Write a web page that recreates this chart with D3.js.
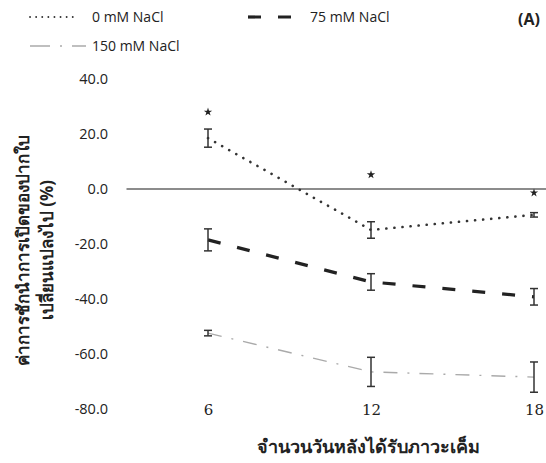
<!DOCTYPE html>
<html>
<head>
<meta charset="utf-8">
<script src="https://cdn.jsdelivr.net/npm/d3@7"></script>
<style>
  html, body { margin: 0; padding: 0; background: #fff; }
  svg { display: block; }
  text { font-family: "Open Sans", "Noto Sans", sans-serif; fill: #222; }
</style>
</head>
<body>
<svg id="chart" width="546" height="463"></svg>
<script>
// Days after salt stress
const days = [6, 12, 18];
// Change in stomatal conductance (%) for each NaCl level
const nacl0 = [18.5, -14.9, -9.4];
const nacl0Err = [3.3, 3.0, 0.8];
const nacl75 = [-18.5, -33.8, -39.2];
const nacl75Err = [4.0, 3.0, 3.0];
const nacl150 = [-52.4, -66.5, -68.4];
const nacl150Err = [1.0, 5.3, 5.5];
// Significance marks (value where the asterisk sits)
const sigPos = [28.0, 5.2, -1.4];
const yTicks = [40, 20, 0, -20, -40, -60, -80];
const seriesNames = ["0 mM NaCl", "75 mM NaCl", "150 mM NaCl"];

const svg = d3.select("#chart");
const W = 546;

const x = d3.scaleLinear().domain([6, 18]).range([208, 534]);
const y = d3.scaleLinear().domain([-80, 40]).range([409, 79]);

// Y axis labels only (no axis line)
const yAxis = d3.axisLeft(y).tickValues(yTicks).tickFormat(d3.format(".1f")).tickSize(0).tickPadding(0);
const gy = svg.append("g").attr("transform", "translate(108,0)").call(yAxis);
gy.select(".domain").remove();
gy.selectAll("text").style("font-size", "14.5px").attr("fill", "#222")
  .style("font-family", "'Open Sans', sans-serif")
  .text(d => d3.format(".1f")(d).replace("−", "-"));

// X axis labels
const xAxis = d3.axisBottom(x).tickValues(days).tickSize(0).tickPadding(0);
const gx = svg.append("g").attr("transform", "translate(0,404)").call(xAxis);
gx.select(".domain").remove();
gx.selectAll("text").style("font-size", "15px").attr("fill", "#222")
  .style("font-family", "'DejaVu Serif', serif");

// Zero reference line
svg.append("line")
  .attr("x1", x(3)).attr("x2", W)
  .attr("y1", y(0)).attr("y2", y(0))
  .attr("stroke", "#666").attr("stroke-width", 1.3);

const styles = [
  { color: "#333", width: 2.6, dash: "0.1,8", cap: "round" },
  { color: "#222", width: 3.2, dash: "13,17", cap: "butt" },
  { color: "#aaa", width: 1.4, dash: "14,10,2,10", cap: "butt" }
];
const values = [nacl0, nacl75, nacl150];
const errs = [nacl0Err, nacl75Err, nacl150Err];

const line = d3.line().x((d, i) => x(days[i])).y(d => y(d));

values.forEach((vals, s) => {
  const st = styles[s];
  svg.append("path")
    .attr("d", line(vals))
    .attr("fill", "none")
    .attr("stroke", st.color)
    .attr("stroke-width", st.width)
    .attr("stroke-dasharray", st.dash)
    .attr("stroke-linecap", st.cap);

  // Error bars
  const g = svg.append("g").attr("stroke", "#333").attr("stroke-width", 1.5);
  vals.forEach((v, i) => {
    const cx = x(days[i]);
    const top = y(v + errs[s][i]);
    const bot = y(v - errs[s][i]);
    g.append("line").attr("x1", cx).attr("x2", cx).attr("y1", top).attr("y2", bot);
    g.append("line").attr("x1", cx - 4).attr("x2", cx + 4).attr("y1", top).attr("y2", top);
    g.append("line").attr("x1", cx - 4).attr("x2", cx + 4).attr("y1", bot).attr("y2", bot);
  });
});

// Significance asterisks
svg.append("g").selectAll("path")
  .data(sigPos)
  .join("path")
  .attr("transform", (d, i) => `translate(${x(days[i])},${y(d)})`)
  .attr("d", d3.symbol(d3.symbolStar, 22)())
  .attr("fill", "#222");

// Legend
const legend = [
  { x1: 30, x2: 78, y: 17, tx: 92 },
  { x1: 248, x2: 296, y: 17, tx: 310 },
  { x1: 30, x2: 86, y: 46, tx: 92 }
];
legend.forEach((l, s) => {
  const st = styles[s];
  svg.append("line")
    .attr("x1", l.x1).attr("x2", l.x2).attr("y1", l.y).attr("y2", l.y)
    .attr("stroke", st.color)
    .attr("stroke-width", s === 0 ? 1.8 : st.width)
    .attr("stroke-dasharray", s === 0 ? "0.1,6" : (s === 1 ? "13,17" : "20,10,2,10"))
    .attr("stroke-linecap", st.cap);
  svg.append("text")
    .attr("x", l.tx).attr("y", l.y).attr("dy", "0.35em")
    .style("font-size", "14px")
    .text(seriesNames[s]);
});

svg.append("text")
  .attr("x", 540).attr("y", 19).attr("dy", "0.35em")
  .attr("text-anchor", "end")
  .style("font-size", "16px").style("font-weight", "bold")
  .text("(A)");

// Axis titles
svg.append("text")
  .attr("x", 368).attr("y", 447).attr("dy", "0.35em")
  .attr("text-anchor", "middle")
  .style("font-size", "18px").style("font-weight", "bold")
  .text("จำนวนวันหลังได้รับภาวะเค็ม");

const yt = svg.append("text")
  .attr("transform", "translate(23,250) rotate(-90)")
  .attr("text-anchor", "middle")
  .style("font-size", "17px").style("font-weight", "bold");
yt.append("tspan").attr("x", 0).attr("dy", "0.35em").text("ค่าการชักนำการเปิดของปากใบ");
yt.append("tspan").attr("x", 0).attr("dy", "1.4em").text("เปลี่ยนแปลงไป (%)");
</script>
</body>
</html>
